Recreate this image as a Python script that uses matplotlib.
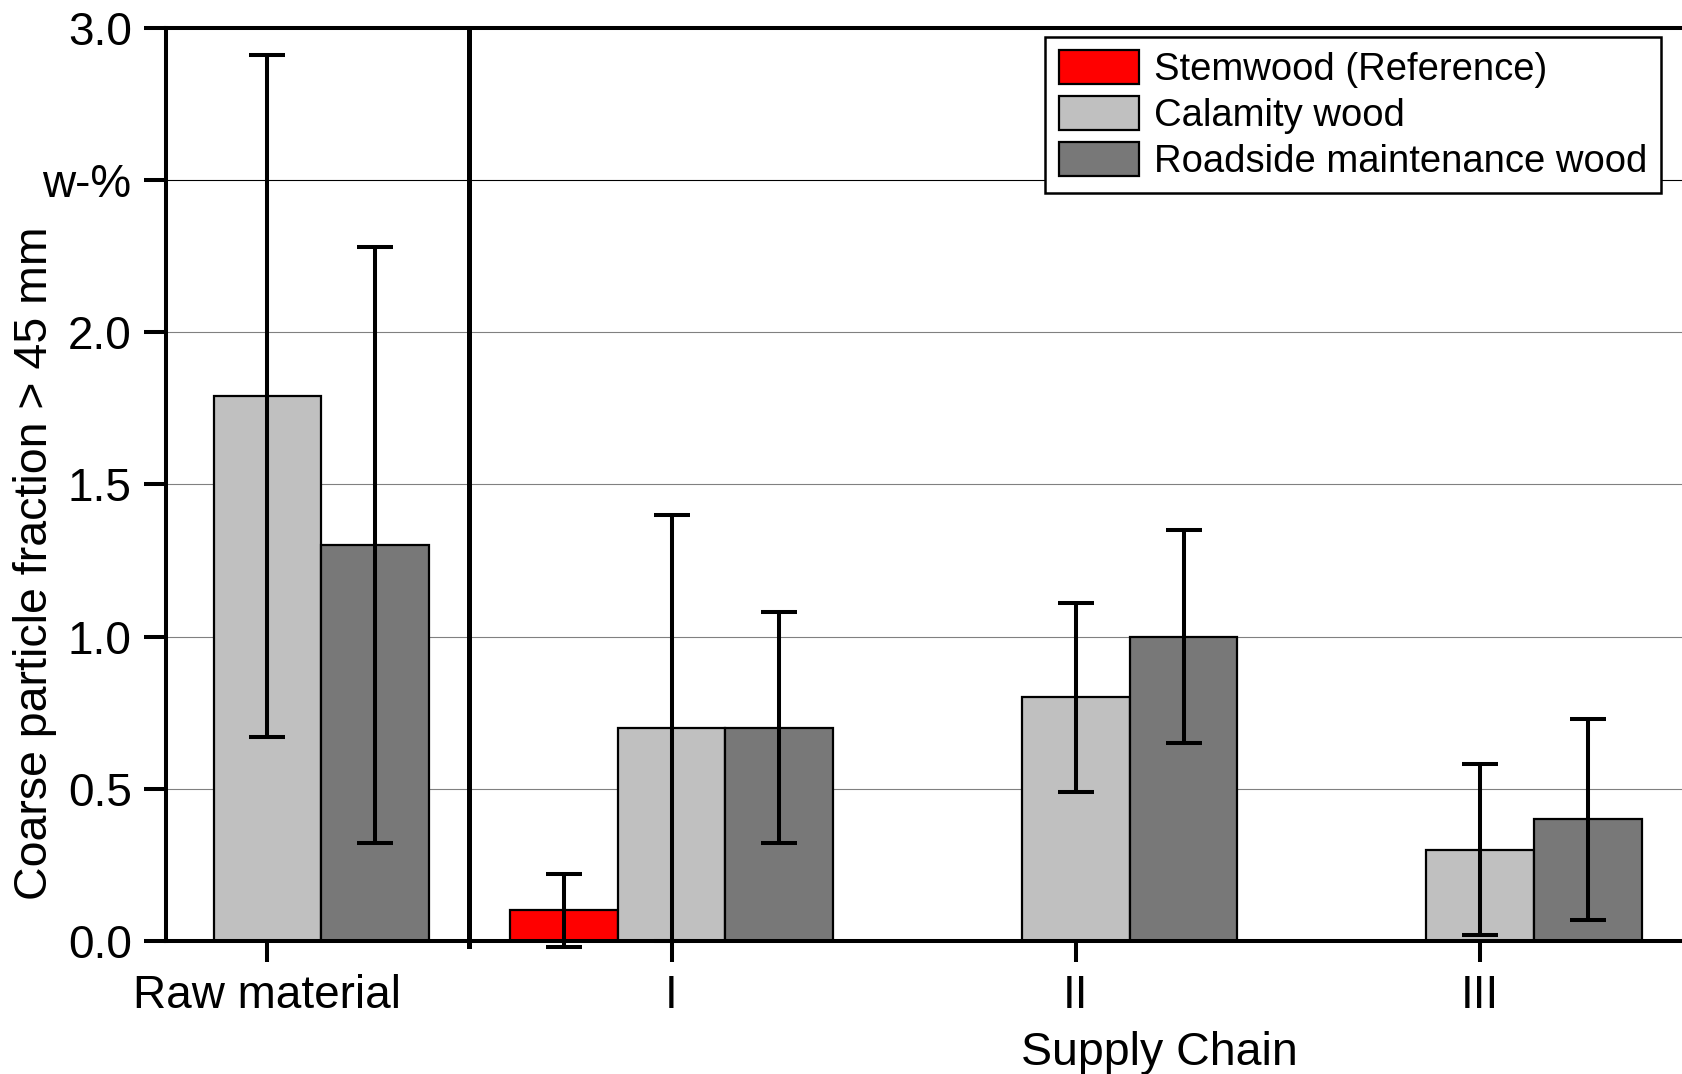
import numpy as np
import matplotlib
matplotlib.use("Agg")
import matplotlib.pyplot as plt

plt.rcParams['font.family'] = ['Liberation Sans', 'DejaVu Sans']

categories = ["Raw material", "I", "II", "III"]
stemwood = [np.nan, 0.10, np.nan, np.nan]
stemwood_err = [np.nan, 0.12, np.nan, np.nan]
calamity = [1.79, 0.70, 0.80, 0.30]
calamity_err = [1.12, 0.70, 0.31, 0.28]
roadside = [1.30, 0.70, 1.00, 0.40]
roadside_err = [0.98, 0.38, 0.35, 0.33]
yticks = [0.0, 0.5, 1.0, 1.5, 2.0, 2.5, 3.0]
ytick_labels = ["0.0", "0.5", "1.0", "1.5", "2.0", "w-%", "3.0"]

series = [
    ("Stemwood (Reference)", stemwood, stemwood_err, "#ff0000", -1),
    ("Calamity wood", calamity, calamity_err, "#c0c0c0", 0),
    ("Roadside maintenance wood", roadside, roadside_err, "#787878", 1),
]

fig = plt.figure(figsize=(16.82, 10.74), dpi=100)
ax = fig.add_axes([0.0989, 0.124, 0.9011, 0.850])

x = np.arange(len(categories))
w = 0.8 / 3

for name, vals, errs, color, off in series:
    vals = np.array(vals)
    errs = np.array(errs)
    m = ~np.isnan(vals)
    ax.bar(x[m] + off * w, vals[m], width=w, color=color, edgecolor="black",
           linewidth=1.6, label=name, zorder=2)
    eb = ax.errorbar(x[m] + off * w, vals[m], yerr=errs[m], fmt="none",
                     ecolor="black", elinewidth=2.9, capsize=13, capthick=2.9,
                     zorder=4)
    for a in eb.lines[1] + eb.lines[2]:
        a.set_clip_on(False)

# grid lines
for yv in yticks[1:-1]:
    ax.axhline(yv, color="black" if yv == 2.5 else "#808080", lw=0.8, zorder=0)

ax.axvline(0.5, color="black", lw=3.6, zorder=5, ymin=-0.006, clip_on=False)

ax.set_xlim(-0.25, 3.5)
ax.set_ylim(0, 3.0)
ax.set_xticks(x)
ax.set_xticklabels(categories, fontsize=33)
ax.set_yticks(yticks)
ax.set_yticklabels(ytick_labels, fontsize=33)
ax.tick_params(axis="y", direction="out", length=16, width=2.9, pad=9)
ax.tick_params(axis="x", direction="out", length=15, width=2.9, pad=9)

for s in ["left", "top", "bottom"]:
    ax.spines[s].set_linewidth(2.9)
    ax.spines[s].set_zorder(6)
ax.spines["right"].set_visible(False)

fig.text(0.021, 0.476, "Coarse particle fraction > 45 mm", rotation=90,
         ha="center", va="center", fontsize=33.5)
fig.text(0.689, 0.020, "Supply Chain", ha="center", va="center", fontsize=33.5)

leg = ax.legend(loc="upper right", bbox_to_anchor=(0.9875, 0.966),
                bbox_transform=fig.transFigure, fontsize=27.5, frameon=True,
                fancybox=False, edgecolor="black", framealpha=1,
                handlelength=2.1, handleheight=1.0, handletextpad=0.4,
                labelspacing=0.2, borderpad=0.35, borderaxespad=0)
leg.get_frame().set_linewidth(1.8)
leg.set_zorder(10)

fig.savefig("out.png", dpi=100)
